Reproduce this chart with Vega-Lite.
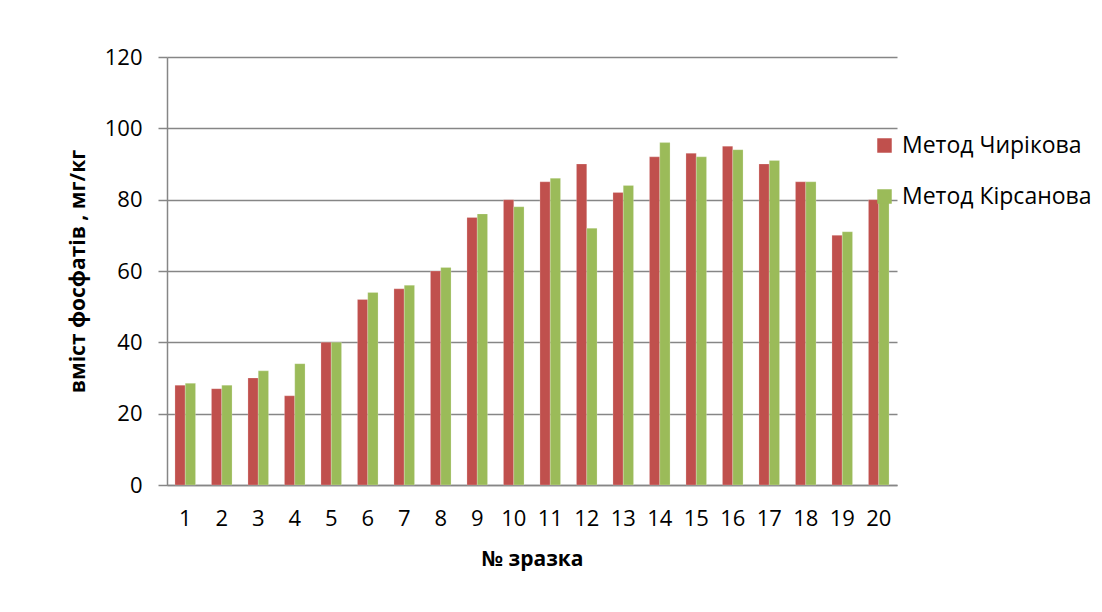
{
  "$schema": "https://vega.github.io/schema/vega-lite/v6.json",
  "width": 730,
  "height": 428,
  "autosize": "none",
  "padding": {"left": 167, "top": 57, "right": 205, "bottom": 127},
  "background": "white",
  "config": {
    "view": {"stroke": null},
    "font": "Open Sans"
  },
  "data": {
    "values": [
      {"n": 1, "m": "Метод Чирікова", "v": 28}, {"n": 1, "m": "Метод Кірсанова", "v": 28.5},
      {"n": 2, "m": "Метод Чирікова", "v": 27}, {"n": 2, "m": "Метод Кірсанова", "v": 28},
      {"n": 3, "m": "Метод Чирікова", "v": 30}, {"n": 3, "m": "Метод Кірсанова", "v": 32},
      {"n": 4, "m": "Метод Чирікова", "v": 25}, {"n": 4, "m": "Метод Кірсанова", "v": 34},
      {"n": 5, "m": "Метод Чирікова", "v": 40}, {"n": 5, "m": "Метод Кірсанова", "v": 40},
      {"n": 6, "m": "Метод Чирікова", "v": 52}, {"n": 6, "m": "Метод Кірсанова", "v": 54},
      {"n": 7, "m": "Метод Чирікова", "v": 55}, {"n": 7, "m": "Метод Кірсанова", "v": 56},
      {"n": 8, "m": "Метод Чирікова", "v": 60}, {"n": 8, "m": "Метод Кірсанова", "v": 61},
      {"n": 9, "m": "Метод Чирікова", "v": 75}, {"n": 9, "m": "Метод Кірсанова", "v": 76},
      {"n": 10, "m": "Метод Чирікова", "v": 80}, {"n": 10, "m": "Метод Кірсанова", "v": 78},
      {"n": 11, "m": "Метод Чирікова", "v": 85}, {"n": 11, "m": "Метод Кірсанова", "v": 86},
      {"n": 12, "m": "Метод Чирікова", "v": 90}, {"n": 12, "m": "Метод Кірсанова", "v": 72},
      {"n": 13, "m": "Метод Чирікова", "v": 82}, {"n": 13, "m": "Метод Кірсанова", "v": 84},
      {"n": 14, "m": "Метод Чирікова", "v": 92}, {"n": 14, "m": "Метод Кірсанова", "v": 96},
      {"n": 15, "m": "Метод Чирікова", "v": 93}, {"n": 15, "m": "Метод Кірсанова", "v": 92},
      {"n": 16, "m": "Метод Чирікова", "v": 95}, {"n": 16, "m": "Метод Кірсанова", "v": 94},
      {"n": 17, "m": "Метод Чирікова", "v": 90}, {"n": 17, "m": "Метод Кірсанова", "v": 91},
      {"n": 18, "m": "Метод Чирікова", "v": 85}, {"n": 18, "m": "Метод Кірсанова", "v": 85},
      {"n": 19, "m": "Метод Чирікова", "v": 70}, {"n": 19, "m": "Метод Кірсанова", "v": 71},
      {"n": 20, "m": "Метод Чирікова", "v": 80}, {"n": 20, "m": "Метод Кірсанова", "v": 82}
    ]
  },
  "mark": {"type": "bar", "stroke": "#ffffff", "strokeOpacity": 0.35, "strokeWidth": 0.6},
  "encoding": {
    "x": {
      "field": "n",
      "type": "ordinal",
      "scale": {"paddingInner": 0.436, "paddingOuter": 0.218},
      "axis": {
        "title": "№ зразка",
        "titleFont": "Open Sans",
        "titleFontSize": 21,
        "titleFontWeight": "bold",
        "titleColor": "#000000",
        "titlePadding": 19,
        "labelAngle": 0,
        "labelFont": "Open Sans",
        "labelFontSize": 22,
        "labelColor": "#000000",
        "labelPadding": 23,
        "ticks": false,
        "domainColor": "#868686",
        "domainWidth": 1.5,
        "grid": false
      }
    },
    "xOffset": {"field": "m", "type": "nominal", "sort": ["Метод Чирікова", "Метод Кірсанова"]},
    "y": {
      "field": "v",
      "type": "quantitative",
      "scale": {"domain": [0, 120]},
      "axis": {
        "title": "вміст фосфатів , мг/кг",
        "titleFont": "Open Sans",
        "titleFontSize": 21,
        "titleFontWeight": "bold",
        "titleColor": "#000000",
        "titlePadding": 16,
        "values": [0, 20, 40, 60, 80, 100, 120],
        "labelFont": "Open Sans",
        "labelFontSize": 22,
        "labelColor": "#000000",
        "labelPadding": 16,
        "tickSize": 9,
        "tickColor": "#868686",
        "tickWidth": 1.5,
        "domainColor": "#868686",
        "domainWidth": 1.5,
        "grid": true,
        "gridColor": "#868686",
        "gridWidth": 1.5
      }
    },
    "color": {
      "field": "m",
      "type": "nominal",
      "scale": {"domain": ["Метод Чирікова", "Метод Кірсанова"], "range": ["#C0504D", "#9BBB59"]},
      "legend": {
        "title": null,
        "orient": "none",
        "legendX": 706,
        "legendY": 77,
        "symbolType": "square",
        "symbolSize": 210,
        "symbolStrokeWidth": 0,
        "symbolOpacity": 1,
        "labelFont": "Open Sans",
        "labelFontSize": 23,
        "labelColor": "#000000",
        "labelOffset": 6,
        "rowPadding": 27,
        "labelLimit": 300
      }
    }
  }
}
